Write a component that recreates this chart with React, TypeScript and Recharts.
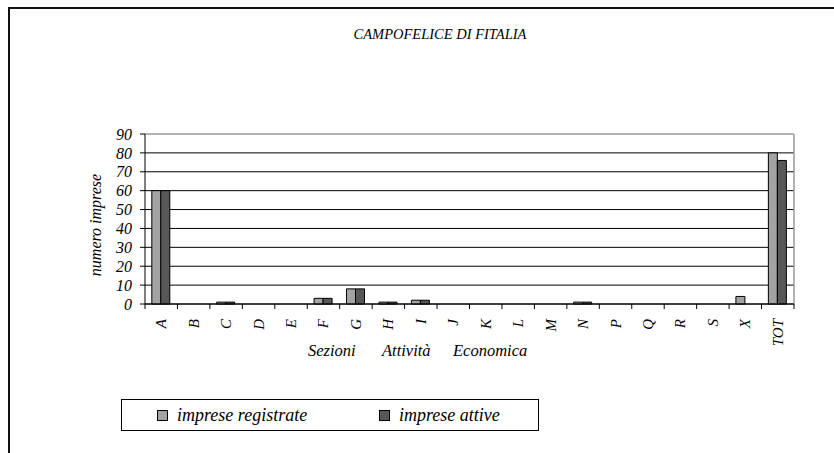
import React from "react"
import { BarChart, Bar, XAxis, YAxis, CartesianGrid } from "recharts"

const categories = ["A", "B", "C", "D", "E", "F", "G", "H", "I", "J", "K", "L", "M", "N", "P", "Q", "R", "S", "X", "TOT"]
const registrate = [60, 0, 1, 0, 0, 3, 8, 1, 2, 0, 0, 0, 0, 1, 0, 0, 0, 0, 4, 80]
const attive = [60, 0, 1, 0, 0, 3, 8, 1, 2, 0, 0, 0, 0, 1, 0, 0, 0, 0, 0, 76]
const yTicks = [0, 10, 20, 30, 40, 50, 60, 70, 80, 90]

const title = "CAMPOFELICE DI FITALIA"
const yTitle = "numero imprese"
const xTitleWords = ["Sezioni", "Attività", "Economica"]
const seriesNames = ["imprese registrate", "imprese attive"]

const W = 834
const H = 453
const TOP = 134
const BOTTOM = 304
const LEFT = 145
const RIGHT = 794
const Y_AXIS_W = 60
const X_AXIS_H = 60
const BAND = (RIGHT - LEFT) / categories.length

const FONT = "Liberation Serif, Times New Roman, DejaVu Serif, serif"
const LIGHT = "#a3a3a3"
const DARK = "#575757"

const data = categories.map((c, i) => ({ name: c, registrate: registrate[i], attive: attive[i] }))

// category ticks sit on the band edges, labels rotated in the middle
function XTick(props: any) {
  const { x, y, payload, index } = props
  const last = index === categories.length - 1
  return (
    <g>
      <line x1={x - BAND / 2} y1={y} x2={x - BAND / 2} y2={y + 5} stroke="#000" />
      {last && <line x1={x + BAND / 2} y1={y} x2={x + BAND / 2} y2={y + 5} stroke="#000" />}
      <text
        x={0}
        y={0}
        transform={`translate(${x + 5},${y + 15}) rotate(-90)`}
        textAnchor="end"
        style={{ fontFamily: FONT, fontStyle: "italic", fontSize: 15 }}
        fill="#000"
      >
        {payload.value}
      </text>
    </g>
  )
}

export default function App() {
  return (
    <div style={{ position: "fixed", left: 0, top: 0, width: W, height: H, background: "#fff", fontFamily: FONT }}>
      <div
        style={{
          position: "absolute",
          left: 8,
          top: 7,
          width: W - 8,
          height: H - 7,
          borderTop: "2px solid #111",
          borderLeft: "2px solid #111",
        }}
      />
      <div style={{ position: "absolute", left: 0, top: 0 }}>
        <BarChart
          width={W}
          height={H}
          data={data}
          margin={{ top: TOP, right: W - RIGHT, left: LEFT - Y_AXIS_W, bottom: H - BOTTOM - X_AXIS_H }}
          barCategoryGap="21%"
          barGap={0}
          style={{ fontFamily: FONT }}
        >
          <CartesianGrid
            vertical={(p: any) => (
              <line key={`v-${p.index}`} x1={p.x1} y1={p.y1} x2={p.x2} y2={p.y2} stroke="#9a9a9a" strokeWidth={1.5} />
            )}
            verticalCoordinatesGenerator={({ offset }: any) => [offset.left + offset.width]}
            horizontal={(p: any) => (
              <line
                key={`h-${p.index}`}
                x1={p.x1}
                y1={p.y1}
                x2={p.x2}
                y2={p.y2}
                stroke={p.y1 < TOP + 1 ? "#9a9a9a" : "#000"}
                strokeWidth={p.y1 < TOP + 1 ? 1.5 : 1}
              />
            )}
          />
          <XAxis
            dataKey="name"
            height={X_AXIS_H}
            interval={0}
            tickLine={false}
            tickSize={0}
            tickMargin={0}
            axisLine={{ stroke: "#000" }}
            tick={<XTick />}
          />
          <YAxis
            width={Y_AXIS_W}
            domain={[0, 90]}
            ticks={yTicks}
            interval={0}
            tickSize={5}
            tickMargin={8}
            axisLine={{ stroke: "#000" }}
            tickLine={{ stroke: "#000" }}
            tick={{ fill: "#000", fontSize: 16, fontStyle: "italic", style: { fontFamily: FONT } }}
          />
          <Bar dataKey="registrate" fill={LIGHT} stroke="#000" strokeWidth={1} isAnimationActive={false} />
          <Bar dataKey="attive" fill={DARK} stroke="#000" strokeWidth={1} isAnimationActive={false} />
        </BarChart>
      </div>
      <svg width={W} height={H} style={{ position: "absolute", left: 0, top: 0, pointerEvents: "none" }}>
        <g style={{ fontFamily: FONT, fontStyle: "italic" }} fill="#000">
          <text x={440} y={38.5} fontSize={14.5} textAnchor="middle">
            {title}
          </text>
          <text x={0} y={0} fontSize={16} textAnchor="middle" transform="translate(101,225) rotate(-90)">
            {yTitle}
          </text>
          <text x={308} y={356} fontSize={16.5}>
            {xTitleWords[0]}
          </text>
          <text x={382} y={356} fontSize={16.5}>
            {xTitleWords[1]}
          </text>
          <text x={453} y={356} fontSize={16.5}>
            {xTitleWords[2]}
          </text>
        </g>
      </svg>
      <div
        style={{
          position: "absolute",
          left: 121,
          top: 399,
          width: 418,
          height: 32,
          boxSizing: "border-box",
          border: "1px solid #000",
          fontStyle: "italic",
          fontSize: 18,
        }}
      >
        {seriesNames.map((name, i) => (
          <div
            key={name}
            style={{
              position: "absolute",
              left: i === 0 ? 35 : 257,
              top: 0,
              height: 30,
              display: "flex",
              alignItems: "center",
              whiteSpace: "nowrap",
            }}
          >
            <span
              style={{
                display: "inline-block",
                width: 9,
                height: 9,
                border: "1px solid #000",
                background: i === 0 ? LIGHT : DARK,
                marginRight: 9,
              }}
            />
            <span>{name}</span>
          </div>
        ))}
      </div>
    </div>
  )
}
